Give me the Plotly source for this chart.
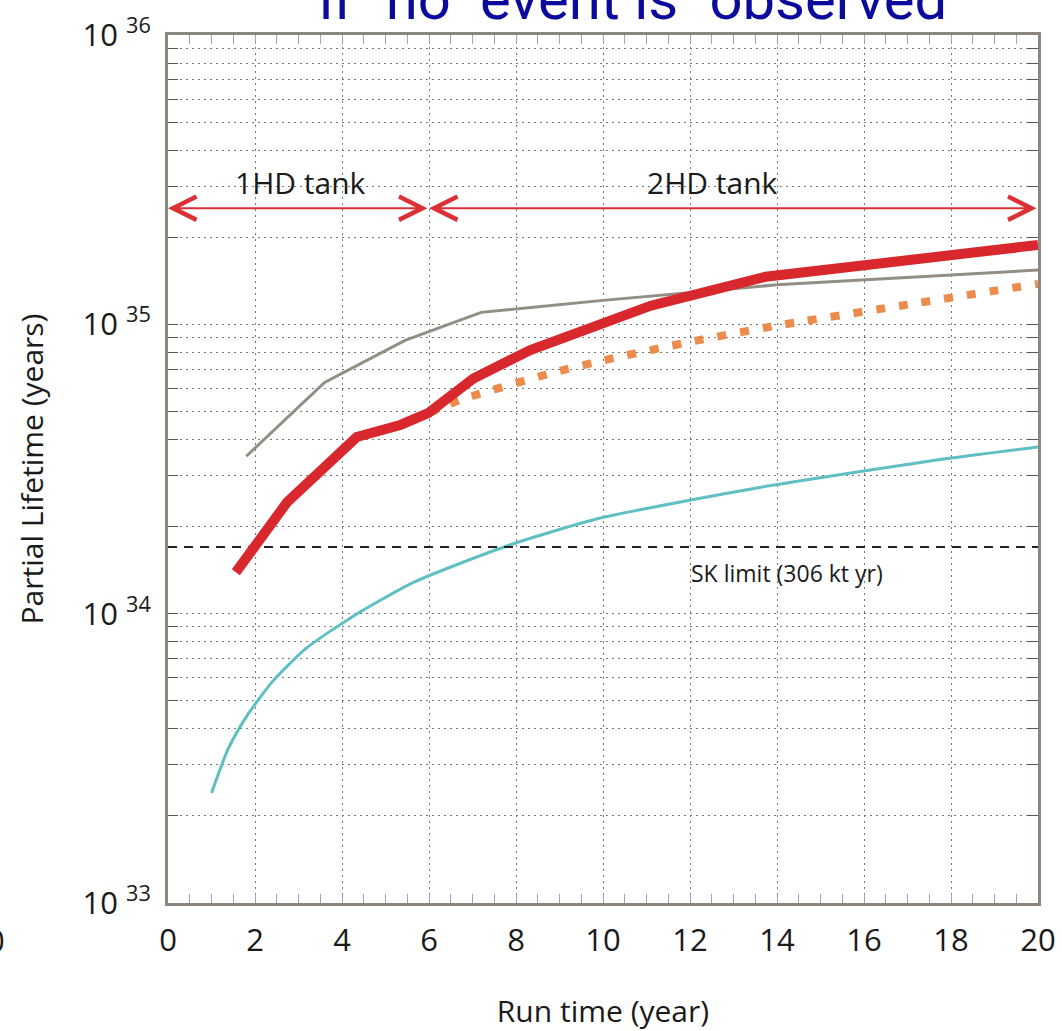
import plotly.graph_objects as go
import math

# ---- data ----
gray_x = [1.8, 3.6, 5.45, 7.2, 10.0, 14.0, 20.0]
gray_y = [3.5e34, 6.3e34, 8.8e34, 1.1e35, 1.21e35, 1.37e35, 1.54e35]

red_x = [1.56, 2.74, 4.34, 5.34, 5.98, 7.02, 8.33, 11.1, 13.74, 20.0]
red_y = [1.39e34, 2.43e34, 4.08e34, 4.49e34, 4.93e34, 6.5e34, 8.15e34, 1.16e35, 1.46e35, 1.88e35]

orange_x = [6.0, 6.7, 8.9, 10.0, 12.0, 14.0, 17.0, 20.0]
orange_y = [4.93e34, 5.47e34, 6.84e34, 7.5e34, 8.7e34, 9.9e34, 1.17e35, 1.38e35]

teal_x = [1.0, 1.38, 1.8, 2.39, 3.18, 4.35, 5.68, 7.87, 9.94, 13.6, 18.0, 20.0]
teal_y = [2.4e33, 3.4e33, 4.4e33, 5.8e33, 7.6e33, 1.0e34, 1.29e34, 1.73e34, 2.14e34, 2.73e34, 3.45e34, 3.77e34]

sk_limit = 1.7e34
sk_x = [0, 20]
sk_label = "SK limit (306 kt yr)"

tank_bounds = [0, 6, 20]
tank_labels = ["1HD tank", "2HD tank"]
tank_label_x = [3.04, 12.52]
arrow_level = 2.52e35
tank_label_level = 3.08e35

decades = [33, 34, 35, 36]
x_ticks = [0, 2, 4, 6, 8, 10, 12, 14, 16, 18, 20]

title_text = 'if "no" event is "observed"'

# ---- figure ----
FONT = "Open Sans, Noto Sans, sans-serif"
fig = go.Figure()

fig.add_trace(go.Scatter(x=teal_x, y=teal_y, mode="lines",
                         line=dict(color="#5fbfc2", width=3, shape="spline", smoothing=0.6),
                         hoverinfo="skip"))
fig.add_trace(go.Scatter(x=gray_x, y=gray_y, mode="lines",
                         line=dict(color="#938e84", width=3), hoverinfo="skip"))
fig.add_trace(go.Scatter(x=sk_x, y=[sk_limit] * len(sk_x), mode="lines",
                         line=dict(color="#222222", width=2, dash="9px,7px"), hoverinfo="skip"))
fig.add_trace(go.Scatter(x=orange_x, y=orange_y, mode="lines",
                         line=dict(color="#ec8c4c", width=8, dash="9px,14px", shape="spline", smoothing=0.5),
                         hoverinfo="skip"))
fig.add_trace(go.Scatter(x=red_x, y=red_y, mode="lines",
                         line=dict(color="#d8282e", width=10), hoverinfo="skip"))

# y ticks: every 1..9 x 10^n for grid lines, labels at decades
y_tickvals, y_ticktext = [], []
for d in decades:
    for k in range(1, 10):
        if d == decades[-1] and k > 1:
            break
        y_tickvals.append(float(k) * 10.0 ** d)
        y_ticktext.append(f'10 <sup>{d}</sup>' if k == 1 else "")

frame = "#8c877d"
GRID_DASH = "2px,4px"
fig.update_xaxes(range=[0, 20], tickvals=x_ticks, ticktext=[str(v) for v in x_ticks],
                 showline=True, linecolor=frame, linewidth=3, mirror="ticks",
                 ticks="inside", ticklen=9, tickcolor="#a8a49c", tickwidth=1,
                 minor=dict(dtick=0.5, ticks="inside", ticklen=9, tickcolor="#a8a49c", showgrid=False),
                 showgrid=True, gridcolor="#777777", griddash=GRID_DASH, gridwidth=1,
                 zeroline=False, ticklabelstandoff=8,
                 tickfont=dict(family=FONT, size=31, color="#1a1a1a"),
                 title=dict(text="Run time (year)", font=dict(family=FONT, size=30, color="#1a1a1a"),
                            standoff=49))
fig.update_yaxes(type="log", range=[33, 36], tickvals=y_tickvals, ticktext=y_ticktext,
                 showline=True, linecolor=frame, linewidth=3, mirror="ticks",
                 ticks="inside", ticklen=10, tickcolor="#555555", tickwidth=1,
                 showgrid=True, gridcolor="#777777", griddash=GRID_DASH, gridwidth=1,
                 zeroline=False, ticklabelstandoff=8,
                 tickfont=dict(family=FONT, size=31, color="#1a1a1a"),
                 title=dict(text="Partial Lifetime (years)", font=dict(family=FONT, size=30, color="#1a1a1a"),
                            standoff=30))

annotations = []
# tank arrows (double-headed)
ly = math.log10(arrow_level)
for a, b in zip(tank_bounds[:-1], tank_bounds[1:]):
    annotations.append(dict(x=a, y=ly, ax=b, ay=ly, xref="x", yref="y", axref="x", ayref="y",
                            text="", showarrow=True, arrowhead=5, startarrowhead=5,
                            arrowside="end+start", arrowsize=2.3, startarrowsize=2.3,
                            arrowwidth=2, arrowcolor="#dc3035"))
ty = math.log10(tank_label_level)
for cx, lab in zip(tank_label_x, tank_labels):
    annotations.append(dict(x=cx, y=ty, xref="x", yref="y", text=lab, showarrow=False,
                            font=dict(family=FONT, size=30, color="#1a1a1a")))
annotations.append(dict(x=14.22, y=34.14, xref="x", yref="y", text=sk_label, showarrow=False,
                        font=dict(family=FONT, size=23, color="#1a1a1a")))
# title clipped at top
annotations.append(dict(x=0.545, y=1.0, xref="paper", yref="paper", xanchor="center", yanchor="bottom",
                        text=title_text, showarrow=False,
                        font=dict(family="Liberation Sans Narrow, Roboto, sans-serif", size=58, color="#0a0a9c")))
# stray clipped label at left
annotations.append(dict(x=-0.198, y=-0.043, xref="paper", yref="paper", xanchor="center", yanchor="middle",
                        text="0", showarrow=False, font=dict(family=FONT, size=31, color="#1a1a1a")))

fig.update_layout(width=1062, height=1031, margin=dict(l=168, r=24, t=35, b=128, autoexpand=False),
                  paper_bgcolor="white", plot_bgcolor="white", showlegend=False,
                  annotations=annotations)

fig.write_html("out.html")
